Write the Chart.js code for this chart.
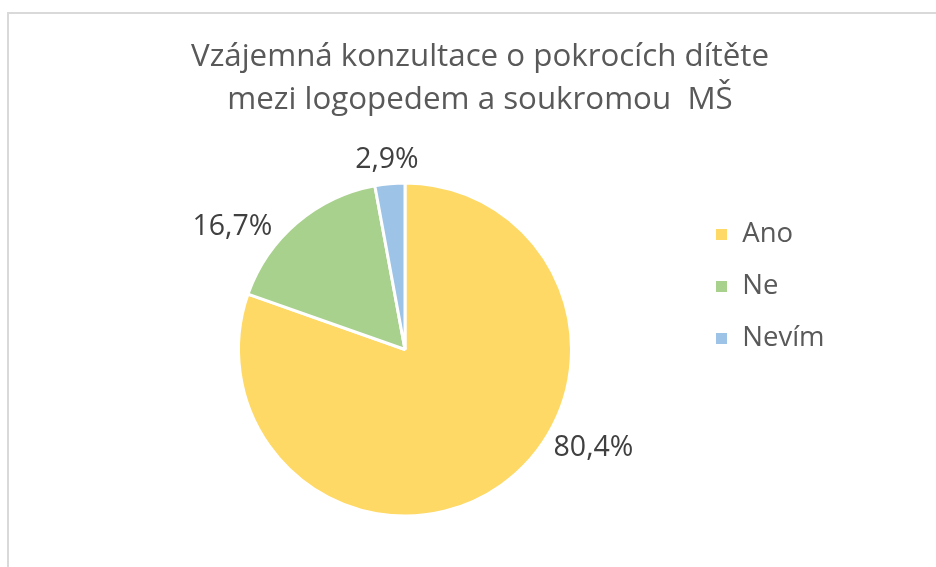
<!DOCTYPE html>
<html>
<head>
<meta charset="utf-8">
<script src="https://cdn.jsdelivr.net/npm/chart.js@4"></script>
<style>
  html, body { margin: 0; padding: 0; background: #fff; overflow: hidden; }
  #wrap { position: relative; width: 936px; height: 567px; }
  #ramecek { position: absolute; left: 7px; top: 12px; width: 1000px; height: 1000px;
    border-left: 2px solid #d9d9d9; border-top: 2px solid #d9d9d9; }
  canvas { position: absolute; left: 0; top: 0; }
</style>
</head>
<body>
<div id="wrap">
  <div id="ramecek"></div>
  <canvas class="graf" width="936" height="567"></canvas>
</div>
<script>
const titulek = ['Vzájemná konzultace o pokrocích dítěte', 'mezi logopedem a soukromou  MŠ'];
const labels = ['Ano', 'Ne', 'Nevím'];
const procenta = [80.4, 16.7, 2.9];
const barvy = ['#FFD966', '#A9D18E', '#9DC3E6'];

// kde v rámci výseče leží popisek (podíl úhlu) a jak daleko za okrajem
const popiskyPozice = [
    { podil: 0.406, odstup: 46 },
    { podil: 0.264, odstup: 45 },
    { podil: 0.478, odstup: 24 }
];

const popisky = {
    id: 'popisky',
    afterDatasetsDraw(chart) {
        const ctx = chart.ctx;
        const meta = chart.getDatasetMeta(0);
        ctx.save();
        ctx.font = '28.5px "Open Sans"';
        ctx.fillStyle = '#404040';
        ctx.textAlign = 'center';
        ctx.textBaseline = 'middle';
        meta.data.forEach(function(arc, i) {
            const p = arc.getProps(['x', 'y', 'startAngle', 'endAngle', 'outerRadius'], true);
            const uhel = p.startAngle + (p.endAngle - p.startAngle) * popiskyPozice[i].podil;
            const r = p.outerRadius + popiskyPozice[i].odstup;
            const text = procenta[i].toFixed(1).replace('.', ',') + '%';
            ctx.fillText(text, p.x + Math.cos(uhel) * r, p.y + Math.sin(uhel) * r);
        });
        ctx.restore();
    }
};

// prázdný box vpravo od legendy, aby titulek zůstal posunutý jako v Excelu
const mezera = {
    position: 'right',
    weight: 2000,
    fullSize: false,
    options: {},
    isHorizontal() { return false; },
    update(maxWidth, maxHeight) {
        const legenda = this.chart.legend;
        this.width = Math.max(0, 150 - (legenda ? legenda.width : 0));
        this.height = maxHeight;
    },
    getPadding() { return { left: 0, right: 0, top: 0, bottom: 0 }; },
    draw() {}
};

const config = {
    type: 'pie',
    data: {
        labels: labels,
        datasets: [{
            data: procenta,
            backgroundColor: barvy,
            borderColor: '#ffffff',
            borderWidth: 3
        }]
    },
    plugins: [popisky, {
        id: 'mezera',
        beforeInit(chart) {
            mezera.chart = chart;
            Chart.layouts.addBox(chart, mezera);
        }
    }],
    options: {
        responsive: false,
        animation: false,
        layout: {
            padding: { left: 120, right: 96, top: 0, bottom: 49.5 }
        },
        plugins: {
            title: {
                display: true,
                text: titulek,
                color: '#595959',
                font: { family: 'Open Sans', size: 31.3, weight: 'normal', lineHeight: '43.5px' },
                padding: { top: 35, bottom: 59.5 }
            },
            legend: {
                position: 'right',
                align: 'start',
                fullSize: false,
                title: { display: true, text: ' ', font: { size: 14.75, lineHeight: 1 }, padding: 0 },
                labels: {
                    boxWidth: 14,
                    boxHeight: 14,
                    padding: 24.5,
                    color: '#595959',
                    font: { family: 'Open Sans', size: 27.5 }
                }
            },
            tooltip: { enabled: false }
        }
    }
};

const ctx = document.querySelector('.graf');
const graf = new Chart(ctx, config);
</script>
</body>
</html>
